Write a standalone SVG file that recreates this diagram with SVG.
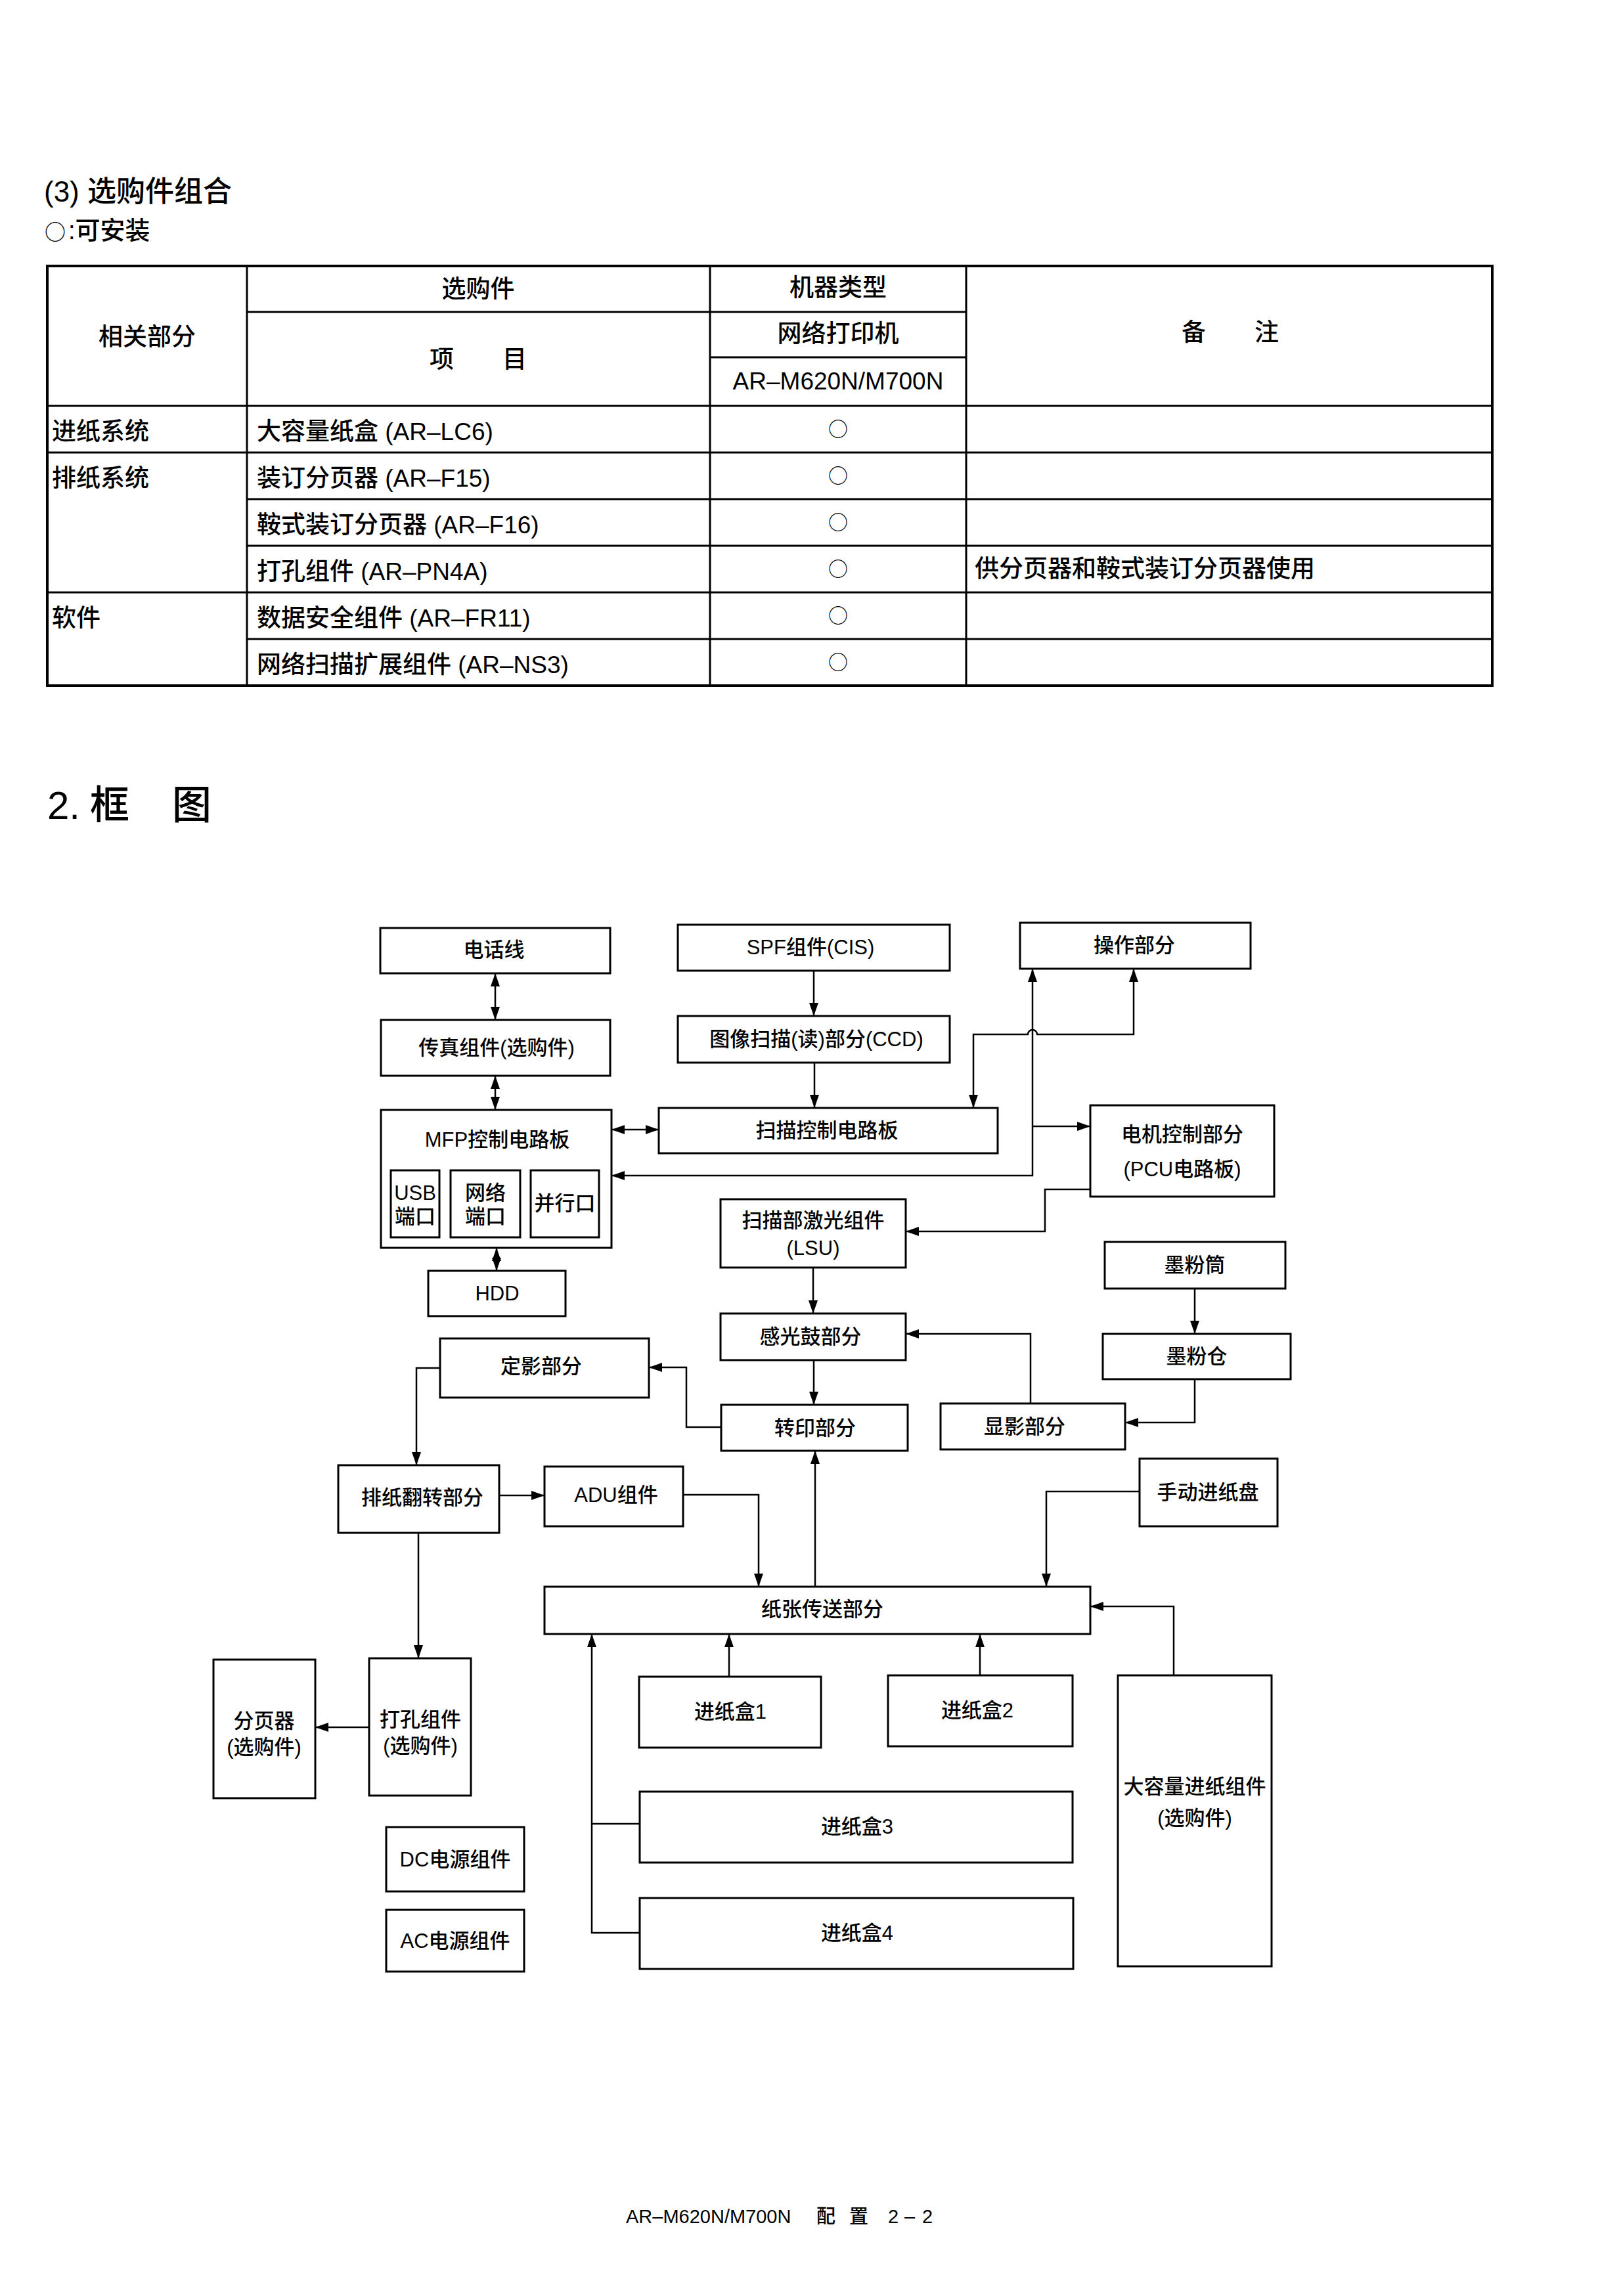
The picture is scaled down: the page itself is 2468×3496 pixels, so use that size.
<svg xmlns="http://www.w3.org/2000/svg" width="2468" height="3496" viewBox="0 0 2468 3496">
<style>
text{font-family:"Liberation Sans","Noto Sans CJK SC",sans-serif;fill:#000;font-weight:500}
.t{font-size:31px;text-anchor:middle;dominant-baseline:central}
.tc{font-size:37px;dominant-baseline:central}
.tm{font-size:37px;dominant-baseline:central;text-anchor:middle}
.o{font-family:"Noto Sans CJK SC",sans-serif;font-size:30px;dominant-baseline:central;text-anchor:middle;font-weight:400}
.box{fill:#fff;stroke:#000;stroke-width:3}
.tl{fill:none;stroke:#000;stroke-width:3}
.c{fill:none;stroke:#000;stroke-width:2.5}
.a1{marker-end:url(#ah)}
.a2{marker-start:url(#ah);marker-end:url(#ah)}
</style>
<defs>
<marker id="ah" markerUnits="userSpaceOnUse" markerWidth="20" markerHeight="14" refX="20" refY="7" orient="auto-start-reverse">
<path d="M0,0 L20,7 L0,14 z" fill="#000"/>
</marker>
</defs>
<rect width="2468" height="3496" fill="#fff"/>

<g id="heading-options">
<text x="67" y="291" style="font-size:44px;dominant-baseline:central">(3) 选购件组合</text>
<text y="351" style="font-size:38px;dominant-baseline:central"><tspan x="68" style="font-family:'Noto Sans CJK SC',sans-serif;font-size:32px">○</tspan><tspan x="104">:可安装</tspan></text>
</g>

<g id="options-table">
<rect class="tl" x="72" y="405" width="2200" height="639" style="stroke-width:4"/>
<path class="tl" d="M376,405V1044 M1081,405V1044 M1471,405V1044 M376,475H1471 M1081,544H1471 M72,618H2272 M72,689H2272 M376,760H2272 M376,831H2272 M72,902H2272 M376,973H2272"/>
<text class="tm" x="224" y="513">相关部分</text>
<text class="tm" x="728" y="440">选购件</text>
<text class="tm" x="728" y="547">项　　目</text>
<text class="tm" x="1276" y="438">机器类型</text>
<text class="tm" x="1276" y="508">网络打印机</text>
<text class="tm" x="1276" y="580">AR–M620N/M700N</text>
<text class="tm" x="1873" y="506">备　　注</text>
<text class="tc" x="79" y="657">进纸系统</text>
<text class="tc" x="79" y="728">排纸系统</text>
<text class="tc" x="79" y="941">软件</text>
<text class="tc" x="391" y="657">大容量纸盒 (AR–LC6)</text>
<text class="tc" x="391" y="728">装订分页器 (AR–F15)</text>
<text class="tc" x="391" y="799">鞍式装订分页器 (AR–F16)</text>
<text class="tc" x="391" y="870">打孔组件 (AR–PN4A)</text>
<text class="tc" x="391" y="941">数据安全组件 (AR–FR11)</text>
<text class="tc" x="391" y="1012">网络扫描扩展组件 (AR–NS3)</text>
<text class="o" x="1276" y="651">○</text>
<text class="o" x="1276" y="722">○</text>
<text class="o" x="1276" y="793">○</text>
<text class="o" x="1276" y="864">○</text>
<text class="o" x="1276" y="935">○</text>
<text class="o" x="1276" y="1006">○</text>
<text class="tc" x="1484" y="866">供分页器和鞍式装订分页器使用</text>
</g>

<g id="heading-diagram">
<text y="1226" style="font-size:60px;dominant-baseline:central"><tspan x="72">2.</tspan><tspan x="137">框</tspan><tspan x="262">图</tspan></text>
</g>

<g id="connectors">
<path class="c a2" d="M754,1482V1553"/>
<path class="c a2" d="M754,1638V1690"/>
<path class="c a2" d="M756,1900V1935"/>
<path class="c a2" d="M931,1720H1003"/>
<path class="c a1" d="M1239,1478V1547"/>
<path class="c a1" d="M1240,1618V1687"/>
<path class="c a2" d="M1482,1687V1575H1565a7,7 0 0 1 14,0H1726V1475"/>
<path class="c a2" d="M1572,1475V1790H931"/>
<path class="c a1" d="M1572,1715H1660"/>
<path class="c a1" d="M1660,1811H1591V1875H1379"/>
<path class="c a1" d="M1238,1930V2000"/>
<path class="c a1" d="M1239,2071V2139"/>
<path class="c a1" d="M1569,2137V2031H1379"/>
<path class="c a1" d="M1819,1962V2031"/>
<path class="c a1" d="M1819,2100V2166H1713"/>
<path class="c a1" d="M1098,2173H1045V2082H988"/>
<path class="c a1" d="M670,2083H634V2231"/>
<path class="c a1" d="M760,2277H829"/>
<path class="c a1" d="M1040,2276H1155V2416"/>
<path class="c a1" d="M1241,2416V2209"/>
<path class="c a1" d="M1735,2271H1593V2416"/>
<path class="c a1" d="M1787,2551V2446H1660"/>
<path class="c a1" d="M637,2334V2525"/>
<path class="c a1" d="M562,2630H480"/>
<path class="c a1" d="M1110,2553V2488"/>
<path class="c a1" d="M1492,2551V2488"/>
<path class="c a1" d="M974,2943H901V2488"/>
<path class="c" d="M974,2777H901"/>
</g>

<g id="n-phone"><rect class="box" x="579" y="1413" width="350" height="69"/><text class="t" x="752" y="1446">电话线</text></g>
<g id="n-fax"><rect class="box" x="580" y="1553" width="349" height="85"/><text class="t" x="756" y="1595">传真组件(选购件)</text></g>
<g id="n-mfp"><rect class="box" x="580" y="1690" width="351" height="210"/><text class="t" x="757" y="1735">MFP控制电路板</text>
<rect class="box" x="595" y="1782" width="74" height="102"/><text class="t" x="632" y="1816">USB</text><text class="t" x="632" y="1852">端口</text>
<rect class="box" x="686" y="1782" width="106" height="102"/><text class="t" x="739" y="1816">网络</text><text class="t" x="739" y="1852">端口</text>
<rect class="box" x="808" y="1782" width="104" height="102"/><text class="t" x="860" y="1832">并行口</text></g>
<g id="n-hdd"><rect class="box" x="652" y="1935" width="209" height="69"/><text class="t" x="757" y="1969">HDD</text></g>
<g id="n-spf"><rect class="box" x="1032" y="1408" width="414" height="70"/><text class="t" x="1234" y="1442">SPF组件(CIS)</text></g>
<g id="n-ccd"><rect class="box" x="1032" y="1547" width="414" height="71"/><text class="t" x="1243" y="1582">图像扫描(读)部分(CCD)</text></g>
<g id="n-scanctl"><rect class="box" x="1003" y="1687" width="516" height="69"/><text class="t" x="1259" y="1721">扫描控制电路板</text></g>
<g id="n-op"><rect class="box" x="1553" y="1405" width="351" height="70"/><text class="t" x="1727" y="1439">操作部分</text></g>
<g id="n-pcu"><rect class="box" x="1660" y="1683" width="280" height="139"/><text class="t" x="1800" y="1727">电机控制部分</text><text class="t" x="1800" y="1780">(PCU电路板)</text></g>
<g id="n-lsu"><rect class="box" x="1097" y="1826" width="282" height="104"/><text class="t" x="1238" y="1858">扫描部激光组件</text><text class="t" x="1238" y="1900">(LSU)</text></g>
<g id="n-tcart"><rect class="box" x="1682" y="1891" width="275" height="71"/><text class="t" x="1819" y="1926">墨粉筒</text></g>
<g id="n-drum"><rect class="box" x="1097" y="2000" width="282" height="71"/><text class="t" x="1234" y="2035">感光鼓部分</text></g>
<g id="n-thopper"><rect class="box" x="1679" y="2031" width="286" height="69"/><text class="t" x="1822" y="2065">墨粉仓</text></g>
<g id="n-fuser"><rect class="box" x="670" y="2038" width="318" height="90"/><text class="t" x="824" y="2080">定影部分</text></g>
<g id="n-transfer"><rect class="box" x="1098" y="2139" width="284" height="70"/><text class="t" x="1241" y="2174">转印部分</text></g>
<g id="n-dev"><rect class="box" x="1432" y="2137" width="281" height="70"/><text class="t" x="1560" y="2172">显影部分</text></g>
<g id="n-exit"><rect class="box" x="515" y="2231" width="245" height="103"/><text class="t" x="643" y="2280">排纸翻转部分</text></g>
<g id="n-adu"><rect class="box" x="829" y="2233" width="211" height="91"/><text class="t" x="938" y="2276">ADU组件</text></g>
<g id="n-manual"><rect class="box" x="1735" y="2221" width="210" height="103"/><text class="t" x="1839" y="2272">手动进纸盘</text></g>
<g id="n-transport"><rect class="box" x="829" y="2416" width="831" height="72"/><text class="t" x="1252" y="2450">纸张传送部分</text></g>
<g id="n-sorter"><rect class="box" x="325" y="2527" width="155" height="211"/><text class="t" x="402" y="2620">分页器</text><text class="t" x="402" y="2660">(选购件)</text></g>
<g id="n-punch"><rect class="box" x="562" y="2525" width="155" height="209"/><text class="t" x="640" y="2618">打孔组件</text><text class="t" x="640" y="2658">(选购件)</text></g>
<g id="n-tray1"><rect class="box" x="973" y="2553" width="277" height="108"/><text class="t" x="1112" y="2606">进纸盒1</text></g>
<g id="n-tray2"><rect class="box" x="1352" y="2551" width="281" height="108"/><text class="t" x="1488" y="2604">进纸盒2</text></g>
<g id="n-lcc"><rect class="box" x="1702" y="2551" width="234" height="443"/><text class="t" x="1819" y="2720">大容量进纸组件</text><text class="t" x="1819" y="2768">(选购件)</text></g>
<g id="n-tray3"><rect class="box" x="974" y="2728" width="659" height="108"/><text class="t" x="1305" y="2781">进纸盒3</text></g>
<g id="n-tray4"><rect class="box" x="974" y="2890" width="660" height="108"/><text class="t" x="1305" y="2943">进纸盒4</text></g>
<g id="n-dc"><rect class="box" x="588" y="2782" width="210" height="98"/><text class="t" x="693" y="2831">DC电源组件</text></g>
<g id="n-ac"><rect class="box" x="588" y="2908" width="210" height="94"/><text class="t" x="693" y="2955">AC电源组件</text></g>

<g id="footer">
<text y="3375" style="font-size:29px;dominant-baseline:central"><tspan x="953">AR–M620N/M700N</tspan><tspan x="1243">配</tspan><tspan x="1293">置</tspan><tspan x="1352">2</tspan><tspan x="1377">–</tspan><tspan x="1404">2</tspan></text>
</g>
</svg>
